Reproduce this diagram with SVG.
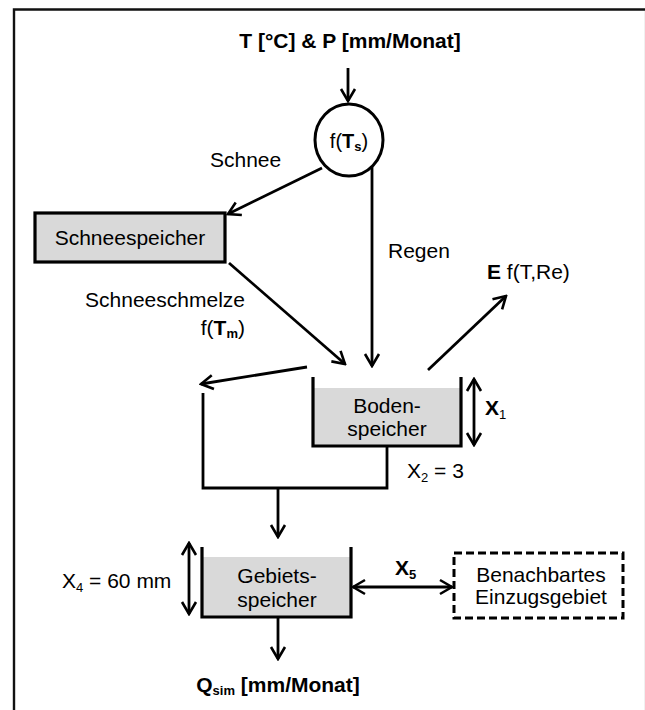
<svg xmlns="http://www.w3.org/2000/svg" width="645" height="710" viewBox="0 0 645 710">
<defs>
<style>
.t{font-family:"Liberation Sans",Arial,sans-serif;font-size:21px;fill:#000}
.b{font-weight:bold}
.ln{stroke:#000;stroke-width:2.8;fill:none}
.wall{stroke:#000;stroke-width:3.2;fill:none}
.fill{fill:#d9d9d9;stroke:none}
</style>
<marker id="ah" viewBox="-15 -9 17 18" refX="0" refY="0" markerWidth="17" markerHeight="18" markerUnits="userSpaceOnUse" orient="auto-start-reverse">
<path d="M-12,-7 L0,0 L-12,7" fill="none" stroke="#000" stroke-width="2.6"/>
</marker>
</defs>
<rect width="645" height="710" fill="#fff"/>
<g id="frame">
<path d="M14,710 L14,9.5 L645,9.5" fill="none" stroke="#111" stroke-width="2.4"/>
<line x1="644.5" y1="11" x2="644.5" y2="710" stroke="#f0f0f0" stroke-width="1"/>
</g>
<g id="connectors">
<line class="ln" x1="348" y1="68" x2="348" y2="101" marker-end="url(#ah)"/>
<line class="ln" x1="322" y1="168" x2="228" y2="214" marker-end="url(#ah)"/>
<line class="ln" x1="372" y1="167" x2="372" y2="366" marker-end="url(#ah)"/>
<line class="ln" x1="229" y1="263" x2="345" y2="364" marker-end="url(#ah)"/>
<line class="ln" x1="428" y1="370" x2="506" y2="296" marker-end="url(#ah)"/>
<line class="ln" x1="307" y1="367" x2="201" y2="384" marker-end="url(#ah)"/>
<polyline class="ln" points="387,446 387,488 203,488 203,393"/>
<line class="ln" x1="278" y1="488" x2="278" y2="537" marker-end="url(#ah)"/>
<line class="ln" x1="278" y1="617" x2="278" y2="659" marker-end="url(#ah)"/>
<line class="ln" x1="474" y1="379" x2="474" y2="445" marker-start="url(#ah)" marker-end="url(#ah)"/>
<line class="ln" x1="189" y1="543" x2="189" y2="614" marker-start="url(#ah)" marker-end="url(#ah)"/>
<line class="ln" x1="353" y1="587" x2="452" y2="587" marker-start="url(#ah)" marker-end="url(#ah)"/>
</g>
<g id="input">
<text class="t b" x="350" y="48" text-anchor="middle">T [°C] &amp; P [mm/Monat]</text>
</g>
<g id="split">
<ellipse cx="349" cy="140" rx="34" ry="36" fill="#fff" stroke="#000" stroke-width="3"/>
<text class="t" x="349" y="148" text-anchor="middle" style="font-size:20px">f(<tspan class="b">T</tspan><tspan class="b" style="font-size:13px" dy="3">s</tspan><tspan dy="-3">)</tspan></text>
</g>
<g id="labels">
<text class="t" x="210" y="167">Schnee</text>
<text class="t" x="388" y="258">Regen</text>
<text class="t" x="245" y="307" text-anchor="end">Schneeschmelze</text>
<text class="t" x="245" y="335" text-anchor="end">f(<tspan class="b">T</tspan><tspan class="b" style="font-size:13px" dy="3">m</tspan><tspan dy="-3">)</tspan></text>
<text class="t" x="487" y="279"><tspan class="b">E</tspan> f(T,Re)</text>
<text class="t b" x="485" y="415">X<tspan style="font-size:13px;font-weight:normal" dy="4">1</tspan></text>
<text class="t" x="407" y="478">X<tspan style="font-size:13px" dy="4">2</tspan><tspan dy="-4"> = 3</tspan></text>
<text class="t" x="62" y="588">X<tspan style="font-size:13px" dy="4">4</tspan><tspan dy="-4"> = 60 mm</tspan></text>
<text class="t b" x="395" y="575">X<tspan style="font-size:13px" dy="4">5</tspan></text>
</g>
<g id="schneespeicher">
<rect x="35" y="213" width="190" height="49" fill="#d9d9d9" stroke="#000" stroke-width="3.2"/>
<text class="t" x="130" y="245" text-anchor="middle">Schneespeicher</text>
</g>
<g id="bodenspeicher">
<rect class="fill" x="313" y="388" width="148" height="58"/>
<polyline class="wall" points="313,377 313,446 461,446 461,377"/>
<text class="t" x="387" y="413" text-anchor="middle">Boden-</text>
<text class="t" x="387" y="436" text-anchor="middle">speicher</text>
</g>
<g id="gebietsspeicher">
<rect class="fill" x="202" y="557" width="149" height="60"/>
<polyline class="wall" points="202,547 202,617 351,617 351,547"/>
<text class="t" x="277" y="583" text-anchor="middle">Gebiets-</text>
<text class="t" x="277" y="607" text-anchor="middle">speicher</text>
</g>
<g id="nachbar">
<rect x="454" y="553" width="169" height="65" fill="#fff" stroke="#000" stroke-width="3" stroke-dasharray="8,4"/>
<text class="t" x="541" y="582" text-anchor="middle">Benachbartes</text>
<text class="t" x="541" y="604" text-anchor="middle">Einzugsgebiet</text>
</g>
<g id="output">
<text class="t b" x="278" y="692" text-anchor="middle">Q<tspan style="font-size:13px" dy="3">sim</tspan><tspan dy="-3"> [mm/Monat]</tspan></text>
</g>
</svg>
